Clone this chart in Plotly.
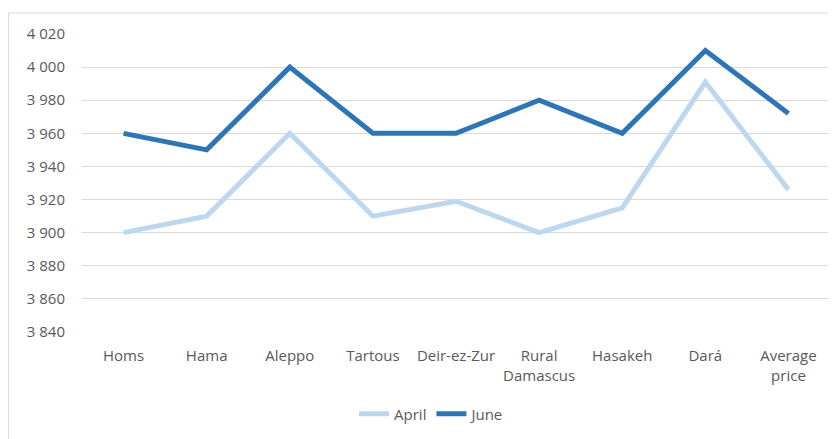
import plotly.graph_objects as go

categories = ["Homs", "Hama", "Aleppo", "Tartous", "Deir-ez-Zur", "Rural<br>Damascus",
              "Hasakeh", "Dará", "Average<br>price"]
april = [3900, 3910, 3960, 3910, 3919, 3900, 3915, 3991, 3926]
june = [3960, 3950, 4000, 3960, 3960, 3980, 3960, 4010, 3972]
y_ticks = [3840, 3860, 3880, 3900, 3920, 3940, 3960, 3980, 4000, 4020]

fig = go.Figure()
fig.add_trace(go.Scatter(x=categories, y=april, mode="lines", name="April",
                         line=dict(color="#BDD7EE", width=5)))
fig.add_trace(go.Scatter(x=categories, y=june, mode="lines", name="June",
                         line=dict(color="#2E75B6", width=5)))

# page has an 8px body offset; figure coordinates below compensate for it
W, H = 828, 431
l, r, t, b = 74, 6, 26, 107
pw = W - l - r
ph = H - t - b

fig.update_layout(
    width=W, height=H,
    margin=dict(l=l, r=r, t=t, b=b, autoexpand=False),
    paper_bgcolor="white", plot_bgcolor="white",
    separators=". ",
    font=dict(family="Open Sans", size=15, color="#595959"),
    showlegend=True,
    legend=dict(orientation="h", x=0.468, xanchor="center",
                yref="container", y=(H - 406) / H, yanchor="middle",
                font=dict(size=15, color="#595959")),
    xaxis=dict(type="category", range=[-0.5, 8.5], showgrid=False, showline=False,
               ticks="", automargin=False, ticklabelstandoff=13,
               tickfont=dict(size=15, color="#595959")),
    yaxis=dict(range=[3840, 4020], tickvals=y_ticks, tickformat=",d",
               showgrid=True, gridcolor="#D9D9D9", gridwidth=1, zeroline=False,
               showline=False, ticks="", ticklabelstandoff=16, automargin=False,
               tickfont=dict(size=15, color="#595959")),
    shapes=[dict(type="rect", xref="paper", yref="paper",
                 x0=(0.5 - l) / pw, x1=(W + 5 - l) / pw,
                 y0=1 - (H + 5 - t) / ph, y1=1 + (t - 5) / ph,
                 line=dict(color="#D9D9D9", width=1), layer="below")],
)

fig.write_html("out.html")
